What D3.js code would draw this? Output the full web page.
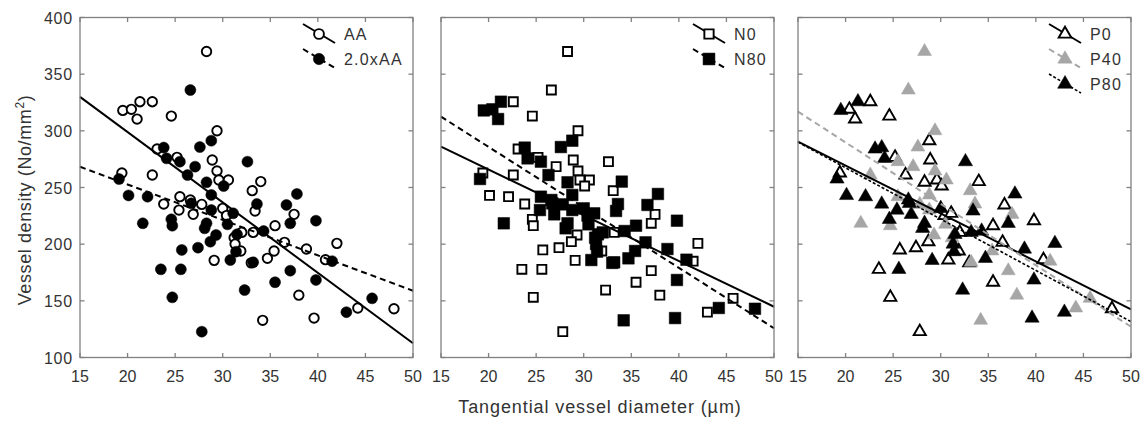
<!DOCTYPE html>
<html>
<head>
<meta charset="utf-8">
<script src="https://d3js.org/d3.v7.min.js"></script>
<style>
  body { margin: 0; background: #fff; }
  text { font-family: "Liberation Sans", Arial, sans-serif; fill: #333; }
</style>
</head>
<body>
<script>
var width = 1146, height = 423;

// tangential vessel diameter (um) and vessel density (No/mm2), one entry per sample
var diameter = [28.3, 19.5, 20.4, 21.3, 22.6, 21.0, 24.6, 19.4, 38.0, 40.8, 42.0, 39.6, 34.2, 44.2, 48.0, 33.0,
  29.4, 23.1, 25.2, 22.6, 28.9, 29.4, 29.6, 30.6, 34.0, 33.1, 25.5, 23.8, 26.6, 27.8, 25.4, 26.9,
  30.0, 30.4, 33.4, 37.5, 35.5, 33.2, 32.0, 31.2, 31.3, 36.5, 31.9, 35.4, 34.7, 29.1, 38.8,
  26.6, 19.1, 20.1, 24.7, 27.8, 32.3, 35.5, 39.8, 39.8, 41.5, 43.0, 45.7,
  28.8, 27.6, 23.8, 24.1, 25.5, 27.1, 32.6, 26.3, 28.3, 30.1, 37.8, 22.1, 28.8, 26.7, 33.6, 36.7,
  28.8, 21.6, 24.6, 24.7, 31.1, 30.5, 28.3, 28.1, 29.3, 28.7, 31.5, 34.3, 37.1, 25.7, 27.4, 31.4,
  30.8, 33.2, 23.5, 25.6, 37.1];
var density = [370, 318, 319, 325.7, 325.7, 310.4, 313, 262.8, 155, 186.3, 200.7, 134.8, 132.8, 143.7, 143, 183.5,
  300.1, 284, 276.6, 261, 274.3, 264.6, 256.6, 256.6, 255.2, 247.2, 241.9, 235.4, 239, 235.1, 230.1, 226.3,
  231.6, 225.2, 229.3, 226.3, 216.3, 210.4, 210.4, 205.7, 200.1, 201.6, 194, 194, 187.5, 185.7, 195.7,
  336, 257.5, 243, 153.1, 122.8, 159.5, 166.4, 168.4, 220.7, 185, 140, 152.2,
  291.3, 285.7, 285.2, 275.7, 272.8, 268.4, 272.8, 261, 254.6, 251.3, 244.3, 241.9, 243.4, 236, 235.4, 234.6,
  230.1, 218.4, 221.9, 216.3, 227.2, 217.5, 218.4, 214, 208.1, 202.2, 208.7, 211.6, 218.4, 194.9, 196.9, 193.4,
  186, 184, 177.8, 177.8, 176.6];
var aaLevel = [1, 1, 1, 1, 1, 1, 1, 1, 1, 1, 1, 1, 1, 1, 1, 1,
  1, 1, 1, 1, 1, 1, 1, 1, 1, 1, 1, 1, 1, 1, 1, 1,
  1, 1, 1, 1, 1, 1, 1, 1, 1, 1, 1, 1, 1, 1, 1,
  2, 2, 2, 2, 2, 2, 2, 2, 2, 2, 2, 2,
  2, 2, 2, 2, 2, 2, 2, 2, 2, 2, 2, 2, 2, 2, 2, 2,
  2, 2, 2, 2, 2, 2, 2, 2, 2, 2, 2, 2, 2, 2, 2, 2,
  2, 2, 2, 2, 2];
var nLevel = [0, 80, 80, 80, 0, 80, 0, 0, 0, 80, 0, 80, 80, 80, 80, 80,
  0, 0, 0, 0, 0, 0, 0, 0, 80, 0, 80, 0, 80, 80, 80, 80,
  80, 80, 80, 0, 80, 0, 80, 80, 80, 80, 0, 80, 80, 0, 80,
  0, 80, 0, 0, 0, 0, 0, 80, 80, 0, 0, 0,
  80, 80, 80, 80, 80, 0, 0, 80, 80, 0, 80, 0, 80, 80, 80, 80,
  80, 80, 0, 0, 80, 80, 80, 80, 0, 0, 80, 80, 0, 0, 0, 80,
  80, 80, 0, 0, 0];
var pLevel = [40, 80, 0, 80, 0, 0, 0, 0, 40, 0, 80, 80, 40, 40, 0, 0,
  40, 80, 0, 40, 0, 40, 0, 40, 0, 40, 40, 80, 80, 40, 80, 80,
  80, 0, 80, 40, 0, 80, 0, 40, 80, 0, 0, 40, 80, 80, 80,
  40, 80, 80, 0, 0, 80, 0, 80, 0, 40, 80, 40,
  0, 40, 80, 80, 40, 40, 80, 0, 0, 0, 80, 80, 40, 80, 40, 0,
  40, 40, 80, 40, 0, 40, 80, 80, 40, 0, 80, 80, 80, 0, 0, 80,
  0, 40, 0, 80, 40];

// fitted lines, density at diameter 15 and at 50
var aaFits = [[330, 112.6], [268.3, 158.9]];
var nFits = [[286, 144.8], [312.5, 125.8]];
var pFits = [[290.4, 142.5], [316.9, 127.2], [290, 131.6]];
var fitEnds = [15, 50];

var xTicks = [15, 20, 25, 30, 35, 40, 45, 50];
var yTicks = [100, 150, 200, 250, 300, 350, 400];

var panels = [
  { left: 80, legendOffset: 110, field: aaLevel, fits: aaFits, shape: d3.symbolCircle,
    series: [
      { value: 1, label: "AA", fill: "#fff", stroke: "#000", size: 70, dash: null, lineColor: "#000", lw: 2 },
      { value: 2, label: "2.0xAA", fill: "#000", stroke: "#000", size: 95, dash: "6,4", lineColor: "#000", lw: 2 }
    ] },
  { left: 441, legendOffset: 81, field: nLevel, fits: nFits, shape: d3.symbolSquare,
    series: [
      { value: 0, label: "N0", fill: "#fff", stroke: "#000", size: 80, dash: null, lineColor: "#000", lw: 2 },
      { value: 80, label: "N80", fill: "#000", stroke: "#000", size: 135, dash: "6,4", lineColor: "#000", lw: 2 }
    ] },
  { left: 798, legendOffset: 82, field: pLevel, fits: pFits, shape: d3.symbolTriangle,
    series: [
      { value: 0, label: "P0", fill: "#fff", stroke: "#000", size: 64, dash: null, lineColor: "#000", lw: 2 },
      { value: 40, label: "P40", fill: "#a6a6a6", stroke: "#a6a6a6", size: 84, dash: "6,4", lineColor: "#a6a6a6", lw: 2 },
      { value: 80, label: "P80", fill: "#000", stroke: "#000", size: 88, dash: "3,2", lineColor: "#000", lw: 1.6 }
    ] }
];

var plotTop = 17.5, plotH = 340, plotW = 333;

var svg = d3.select("body").append("svg")
  .attr("width", width)
  .attr("height", height);

var y = d3.scaleLinear().domain([100, 400]).range([plotTop + plotH, plotTop]);

panels.forEach(function (panel, pi) {
  var x = d3.scaleLinear().domain([15, 50]).range([panel.left, panel.left + plotW]);
  var g = svg.append("g");

  // markers
  panel.series.forEach(function (s) {
    var idx = d3.range(diameter.length).filter(function (i) { return panel.field[i] === s.value; });
    g.selectAll(null)
      .data(idx)
      .enter().append("path")
      .attr("d", d3.symbol().type(panel.shape).size(s.size))
      .attr("transform", function (i) { return "translate(" + x(diameter[i]) + "," + y(density[i]) + ")"; })
      .style("fill", s.fill)
      .style("stroke", s.stroke)
      .style("stroke-width", s.fill === "#fff" ? 1.9 : 0.5);
  });

  // fitted lines
  panel.series.forEach(function (s, si) {
    g.append("line")
      .attr("x1", x(fitEnds[0])).attr("y1", y(panel.fits[si][0]))
      .attr("x2", x(fitEnds[1])).attr("y2", y(panel.fits[si][1]))
      .style("stroke", s.lineColor)
      .style("stroke-width", s.lw)
      .style("stroke-dasharray", s.dash);
  });

  // frame and inside ticks
  g.append("rect")
    .attr("x", panel.left).attr("y", plotTop)
    .attr("width", plotW).attr("height", plotH)
    .style("fill", "none").style("stroke", "#808080").style("stroke-width", 1.3);

  xTicks.forEach(function (t) {
    g.append("line").attr("x1", x(t)).attr("x2", x(t)).attr("y1", plotTop + plotH).attr("y2", plotTop + plotH - 4.5)
      .style("stroke", "#808080").style("stroke-width", 1.3);
    g.append("line").attr("x1", x(t)).attr("x2", x(t)).attr("y1", plotTop).attr("y2", plotTop + 4.5)
      .style("stroke", "#808080").style("stroke-width", 1.3);
    g.append("text").attr("x", x(t)).attr("y", plotTop + plotH + 24.5)
      .attr("text-anchor", "middle").style("font-size", "16px").text(t);
  });

  yTicks.forEach(function (t) {
    g.append("line").attr("x1", panel.left).attr("x2", panel.left + 4.5).attr("y1", y(t)).attr("y2", y(t))
      .style("stroke", "#808080").style("stroke-width", 1.3);
    g.append("line").attr("x1", panel.left + plotW).attr("x2", panel.left + plotW - 4.5).attr("y1", y(t)).attr("y2", y(t))
      .style("stroke", "#808080").style("stroke-width", 1.3);
    if (pi === 0) {
      g.append("text").attr("x", panel.left - 7).attr("y", y(t) + 6)
        .attr("text-anchor", "end").style("font-size", "16px").style("letter-spacing", "0.8px").text(t);
    }
  });

  // legend
  var lx = panel.left + plotW - panel.legendOffset;
  panel.series.forEach(function (s, si) {
    var ly = plotTop + 16.5 + si * 25;
    g.append("line")
      .attr("x1", lx).attr("y1", ly - 10)
      .attr("x2", lx + 32).attr("y2", ly + 9)
      .style("stroke", s.lineColor).style("stroke-width", s.lw)
      .style("stroke-dasharray", s.dash);
    g.append("path")
      .attr("d", d3.symbol().type(panel.shape).size(s.size + 6))
      .attr("transform", "translate(" + (lx + 16) + "," + ly + ")")
      .style("fill", s.fill).style("stroke", s.stroke)
      .style("stroke-width", s.fill === "#fff" ? 1.9 : 0.5);
    g.append("text")
      .attr("x", lx + 41).attr("y", ly + 6)
      .style("font-size", "16px").style("letter-spacing", "1.2px")
      .text(s.label);
  });
});

// axis titles
var yl = svg.append("text")
  .attr("transform", "translate(31,200) rotate(-90)")
  .attr("text-anchor", "middle")
  .style("font-size", "18px")
  .style("letter-spacing", "0.6px");
yl.append("tspan").text("Vessel density (No/mm");
yl.append("tspan").attr("dy", -7).style("font-size", "12px").text("2");
yl.append("tspan").attr("dy", 7).text(")");

svg.append("text")
  .attr("x", 600).attr("y", 413)
  .attr("text-anchor", "middle")
  .style("font-size", "18px")
  .style("letter-spacing", "0.9px")
  .text("Tangential vessel diameter (\u00b5m)");
</script>
</body>
</html>
